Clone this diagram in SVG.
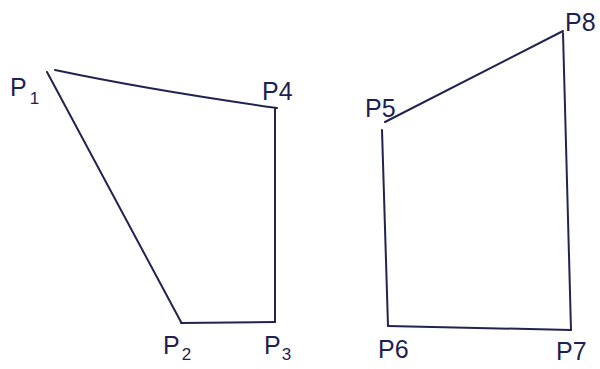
<svg xmlns="http://www.w3.org/2000/svg" width="600" height="369" viewBox="0 0 600 369">
<style>
.e{fill:none;stroke:#23234f;stroke-width:2;stroke-linecap:round;stroke-linejoin:round}
.l{font-family:"Liberation Sans",Arial,sans-serif;font-size:25px;fill:#1f1f50}
.s{font-size:17px}
</style>
<rect width="600" height="369" fill="#ffffff"/>
<g id="connectors">
<path class="e" d="M55,70 Q150,90 277,108"/>
<path class="e" d="M47,72 L181,322"/>
<path class="e" d="M181,323 L275,322"/>
<path class="e" d="M275,322 L275,108"/>
<path class="e" d="M385,122 L563,31"/>
<path class="e" d="M563,33 L571,330"/>
<path class="e" d="M388,326 L571,330"/>
<path class="e" d="M382,130 L388,326"/>
</g>
<g id="P1"><text class="l" x="10" y="96">P<tspan class="s" dx="3" dy="8">1</tspan></text></g>
<g id="P2"><text class="l" x="163" y="354">P<tspan class="s" dx="2" dy="6">2</tspan></text></g>
<g id="P3"><text class="l" x="264" y="354">P<tspan class="s" dx="1" dy="6">3</tspan></text></g>
<g id="P4"><text class="l" x="262" y="100">P4</text></g>
<g id="P5"><text class="l" x="365" y="117">P5</text></g>
<g id="P6"><text class="l" x="378" y="358">P6</text></g>
<g id="P7"><text class="l" x="556" y="360">P7</text></g>
<g id="P8"><text class="l" x="565" y="31">P8</text></g>
</svg>
